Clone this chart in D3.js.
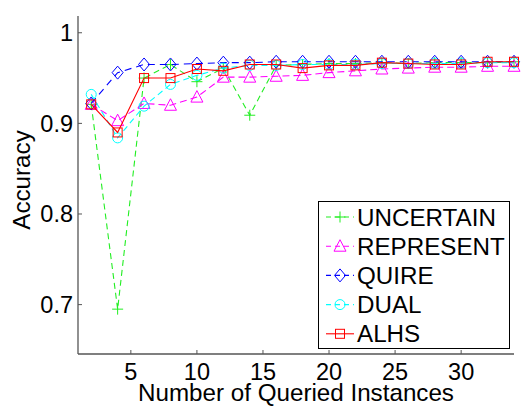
<!DOCTYPE html>
<html>
<head>
<meta charset="utf-8">
<script src="https://cdn.jsdelivr.net/npm/d3@7"></script>
<style>
  body { margin: 0; background: #fff; }
  text { font-family: "Liberation Sans", Arial, sans-serif; fill: #000; }
</style>
</head>
<body>
<div id="chart"></div>
<script>
// Dades llegides del gràfic
const queried = [2, 4, 6, 8, 10, 12, 14, 16, 18, 20, 22, 24, 26, 28, 30, 32, 34];
const uncertain = [0.921, 0.695, 0.950, 0.965, 0.946, 0.961, 0.909, 0.964, 0.965, 0.966, 0.966, 0.967, 0.966, 0.967, 0.967, 0.967, 0.968];
const represent = [0.921, 0.903, 0.922, 0.920, 0.929, 0.951, 0.951, 0.952, 0.953, 0.956, 0.958, 0.960, 0.961, 0.962, 0.962, 0.963, 0.963];
const quire = [0.922, 0.956, 0.965, 0.965, 0.966, 0.967, 0.967, 0.968, 0.968, 0.968, 0.968, 0.968, 0.968, 0.968, 0.968, 0.968, 0.968];
const dual = [0.932, 0.884, 0.919, 0.943, 0.953, 0.961, 0.964, 0.964, 0.965, 0.965, 0.965, 0.966, 0.966, 0.966, 0.966, 0.967, 0.967];
const alhs = [0.921, 0.890, 0.950, 0.950, 0.960, 0.958, 0.965, 0.965, 0.961, 0.964, 0.964, 0.967, 0.966, 0.965, 0.965, 0.968, 0.968];
const xTicks = [5, 10, 15, 20, 25, 30];
const yTicks = [0.7, 0.8, 0.9, 1];

const series = [
    {name: "UNCERTAIN", values: uncertain, color: "#22ee22", dash: "6,4", marker: "plus"},
    {name: "REPRESENT", values: represent, color: "#ff00ff", dash: "7,4", marker: "triangle"},
    {name: "QUIRE", values: quire, color: "#0000ff", dash: "7,5", marker: "diamond"},
    {name: "DUAL", values: dual, color: "#00ffff", dash: "6,4", marker: "circle"},
    {name: "ALHS", values: alhs, color: "#ff0000", dash: null, marker: "square"}
];

const width = 521, height = 410;
const fontSize = 24.2;
const tickFont = 23.5;

const svg = d3.select("#chart")
    .append("svg")
    .attr("width", width)
    .attr("height", height);

const x = d3.scaleLinear().domain([1, 34]).range([78, 514]);
const y = d3.scaleLinear().domain([0.6455, 1.0185]).range([354, 16]);

// Eixos (estil MATLAB: ticks cap endins, sense caixa)
const axisColor = "#555";
svg.append("line")
    .attr("x1", x.range()[0]).attr("x2", x.range()[1])
    .attr("y1", 354).attr("y2", 354)
    .attr("stroke", axisColor).attr("stroke-width", 1.3);
svg.append("line")
    .attr("x1", 78).attr("x2", 78)
    .attr("y1", 16).attr("y2", 354)
    .attr("stroke", axisColor).attr("stroke-width", 1.3);

svg.selectAll(".xtick")
    .data(xTicks)
    .enter().append("line")
    .attr("x1", d => x(d)).attr("x2", d => x(d))
    .attr("y1", 354).attr("y2", 350)
    .attr("stroke", axisColor);
svg.selectAll(".xlab")
    .data(xTicks)
    .enter().append("text")
    .attr("x", d => x(d))
    .attr("y", 380)
    .attr("text-anchor", "middle")
    .style("font-size", tickFont + "px")
    .text(d => d);

svg.selectAll(".ytick")
    .data(yTicks)
    .enter().append("line")
    .attr("x1", 78).attr("x2", 82)
    .attr("y1", d => y(d)).attr("y2", d => y(d))
    .attr("stroke", axisColor);
svg.selectAll(".ylab")
    .data(yTicks)
    .enter().append("text")
    .attr("x", 73)
    .attr("y", d => y(d) + 8.5)
    .attr("text-anchor", "end")
    .style("font-size", tickFont + "px")
    .text(d => d);

// Etiquetes
svg.append("text")
    .attr("x", 296)
    .attr("y", 401)
    .attr("text-anchor", "middle")
    .style("font-size", fontSize + "px")
    .text("Number of Queried Instances");

svg.append("text")
    .attr("transform", "translate(30, 180) rotate(-90)")
    .attr("text-anchor", "middle")
    .style("font-size", fontSize + "px")
    .text("Accuracy");

// Dibuixa un marcador
function drawMarker(g, type, cx, cy, color) {
    if (type === "plus") {
        g.append("path")
            .attr("d", `M${cx - 5.5},${cy}H${cx + 5.5}M${cx},${cy - 5.5}V${cy + 5.5}`)
            .attr("stroke", color).attr("fill", "none");
    } else if (type === "triangle") {
        g.append("path")
            .attr("d", `M${cx},${cy - 6.5}L${cx + 6},${cy + 5}L${cx - 6},${cy + 5}Z`)
            .attr("stroke", color).attr("fill", "none");
    } else if (type === "diamond") {
        g.append("path")
            .attr("d", `M${cx},${cy - 6.5}L${cx + 5.5},${cy}L${cx},${cy + 6.5}L${cx - 5.5},${cy}Z`)
            .attr("stroke", color).attr("fill", "none");
    } else if (type === "circle") {
        g.append("circle")
            .attr("cx", cx).attr("cy", cy).attr("r", 5)
            .attr("stroke", color).attr("fill", "none");
    } else if (type === "square") {
        g.append("rect")
            .attr("x", cx - 4.5).attr("y", cy - 4.5)
            .attr("width", 9).attr("height", 9)
            .attr("stroke", color).attr("fill", "none");
    }
}

const line = d3.line()
    .x(d => x(d[0]))
    .y(d => y(d[1]));

series.forEach(s => {
    const pts = queried.map((q, i) => [q, s.values[i]]);
    const g = svg.append("g");
    g.append("path")
        .datum(pts)
        .attr("d", line)
        .attr("fill", "none")
        .attr("stroke", s.color)
        .attr("stroke-width", 1.1)
        .attr("stroke-dasharray", s.dash);
    pts.forEach(p => drawMarker(g, s.marker, x(p[0]), y(p[1]), s.color));
});

// Llegenda
const legend = svg.append("g");
legend.append("rect")
    .attr("x", 318.5).attr("y", 201.5)
    .attr("width", 191).attr("height", 147)
    .attr("fill", "#fff")
    .attr("stroke", "#000");

series.forEach((s, i) => {
    const ly = 217 + i * 29.2;
    legend.append("line")
        .attr("x1", 326).attr("x2", 354)
        .attr("y1", ly).attr("y2", ly)
        .attr("stroke", s.color)
        .attr("stroke-width", 1.1)
        .attr("stroke-dasharray", s.dash ? "5,4" : null);
    drawMarker(legend, s.marker, 340, ly, s.color);
    legend.append("text")
        .attr("x", 357)
        .attr("y", ly + 8.5)
        .style("font-size", fontSize + "px")
        .text(s.name);
});
</script>
</body>
</html>
